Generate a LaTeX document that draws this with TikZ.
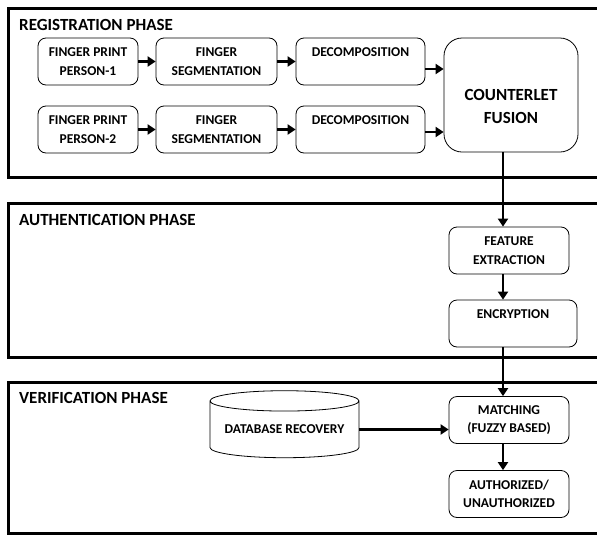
\documentclass[tikz,border=0pt]{standalone}
\usepackage{fontspec}
\setmainfont{Carlito}
\usetikzlibrary{shapes.geometric, arrows.meta}

\begin{document}
\begin{tikzpicture}[x=1pt, y=-1pt,
    phase/.style={line width=3pt},
    title/.style={anchor=west, inner sep=0pt, font=\fontsize{17}{20}\selectfont\bfseries},
    blk/.style={draw, line width=0.8pt, rounded corners=8pt, align=center, inner sep=0pt,
        minimum height=47pt, font=\fontsize{13.5}{18.5}\selectfont\bfseries},
    flow/.style={line width=2.8pt, -{Triangle[length=8pt, width=10pt]}},
]
    \clip (0,0) rectangle (597,536);

    % the three phases (cut at the right edge)
    \draw[phase] (8,8) rectangle (640,177);
    \draw[phase] (8,203) rectangle (640,357);
    \draw[phase] (8,382) rectangle (640,533);
    \node[title] (tReg) at (19,25) {REGISTRATION PHASE};
    \node[title] (tAuth) at (19,220) {AUTHENTICATION PHASE};
    \node[title] (tVer) at (19,398) {VERIFICATION PHASE};

    % registration
    \node[blk, minimum width=100pt] (fp1) at (88,61.5) {FINGER PRINT\\PERSON-1};
    \node[blk, minimum width=121pt] (seg1) at (216.5,61.5) {FINGER\\SEGMENTATION};
    \node[blk, minimum width=129pt] (dec1) at (360.5,61.5) {DECOMPOSITION\\[-6pt]\strut};
    \node[blk, minimum width=100pt] (fp2) at (88,129.5) {FINGER PRINT\\PERSON-2};
    \node[blk, minimum width=121pt] (seg2) at (216.5,129.5) {FINGER\\SEGMENTATION};
    \node[blk, minimum width=129pt] (dec2) at (360.5,129.5) {DECOMPOSITION\\[-6pt]\strut};
    \node[blk, rounded corners=18pt, minimum width=134pt, minimum height=114pt,
        font=\fontsize{17}{23}\selectfont\bfseries] (fusion) at (511,95) {\mbox{}\\[12pt]COUNTERLET\\FUSION};

    % authentication
    \node[blk, minimum width=120pt] (feat) at (509,250.5) {FEATURE\\EXTRACTION};
    \node[blk, minimum width=128pt] (enc) at (513,323.5) {ENCRYPTION\\[-6pt]\strut};

    % verification
    \node[draw, line width=0.8pt, cylinder, shape border rotate=90, aspect=0.17,
        minimum width=149pt, minimum height=67pt, inner sep=0pt,
        font=\fontsize{13.5}{18}\selectfont\bfseries] (db) at (284.5,429.5) {DATABASE RECOVERY};
    \node[blk, minimum width=120pt] (match) at (509,420) {MATCHING\\(FUZZY BASED)};
    \node[blk, minimum width=120pt] (auth) at (509,494) {AUTHORIZED/\\UNAUTHORIZED};

    \coordinate (spine) at (503,0);

    \draw[flow] (fp1) -- (seg1);
    \draw[flow] (seg1) -- (dec1);
    \draw[flow] ([yshift=-7.5pt]dec1.east) -- ([yshift=-7.5pt]dec1.east -| fusion.west);
    \draw[flow] (fp2) -- (seg2);
    \draw[flow] (seg2) -- (dec2);
    \draw[flow] ([yshift=-2.5pt]dec2.east) -- ([yshift=-2.5pt]dec2.east -| fusion.west);
    \draw[flow] (fusion.south -| spine) -- (feat.north -| spine);
    \draw[flow] (feat.south -| spine) -- (enc.north -| spine);
    \draw[flow] (enc.south -| spine) -- (match.north -| spine);
    \draw[flow] (db.east) -- (db.east -| match.west);
    \draw[flow] (match.south -| spine) -- (auth.north -| spine);
\end{tikzpicture}
\end{document}
